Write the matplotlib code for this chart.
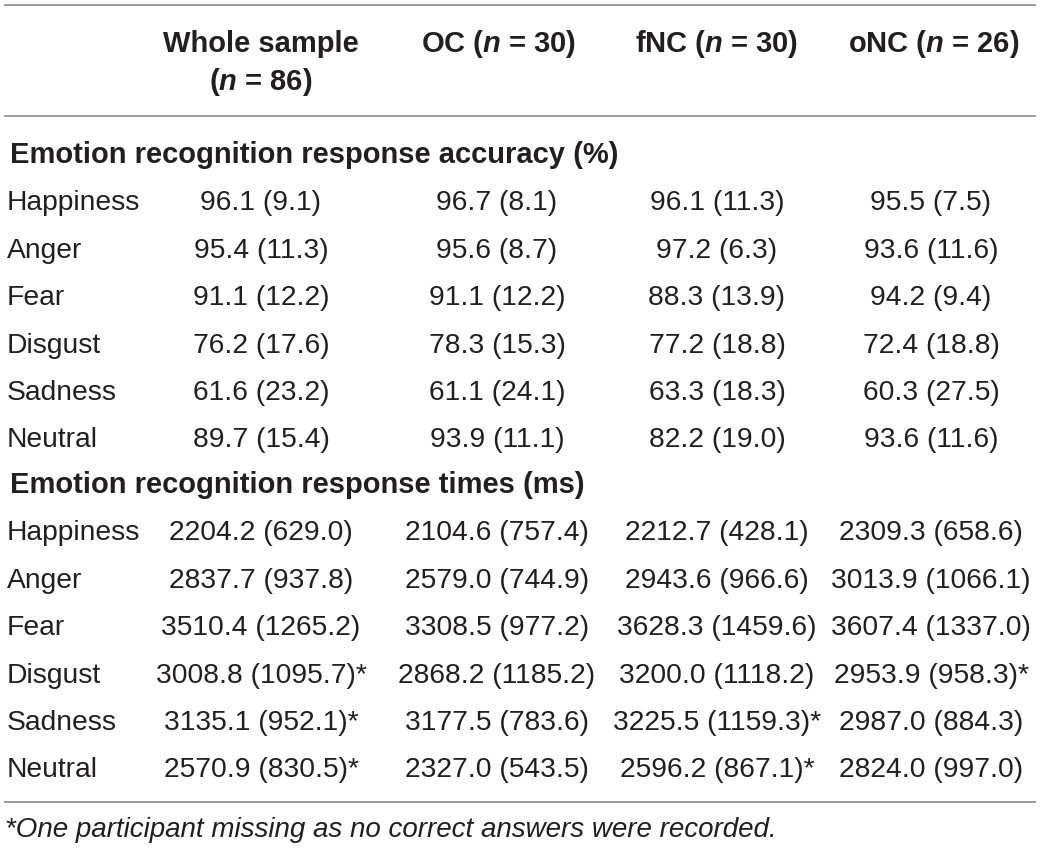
import numpy as np
import matplotlib
matplotlib.use('Agg')
import matplotlib.pyplot as plt

# table content
groups = ['Whole sample', 'OC', 'fNC', 'oNC']
group_n = [86, 30, 30, 26]
emotions = ['Happiness', 'Anger', 'Fear', 'Disgust', 'Sadness', 'Neutral']

acc_mean = [[96.1, 95.4, 91.1, 76.2, 61.6, 89.7],
            [96.7, 95.6, 91.1, 78.3, 61.1, 93.9],
            [96.1, 97.2, 88.3, 77.2, 63.3, 82.2],
            [95.5, 93.6, 94.2, 72.4, 60.3, 93.6]]
acc_sd = [[9.1, 11.3, 12.2, 17.6, 23.2, 15.4],
          [8.1, 8.7, 12.2, 15.3, 24.1, 11.1],
          [11.3, 6.3, 13.9, 18.8, 18.3, 19.0],
          [7.5, 11.6, 9.4, 18.8, 27.5, 11.6]]

rt_mean = [[2204.2, 2837.7, 3510.4, 3008.8, 3135.1, 2570.9],
           [2104.6, 2579.0, 3308.5, 2868.2, 3177.5, 2327.0],
           [2212.7, 2943.6, 3628.3, 3200.0, 3225.5, 2596.2],
           [2309.3, 3013.9, 3607.4, 2953.9, 2987.0, 2824.0]]
rt_sd = [[629.0, 937.8, 1265.2, 1095.7, 952.1, 830.5],
         [757.4, 744.9, 977.2, 1185.2, 783.6, 543.5],
         [428.1, 966.6, 1459.6, 1118.2, 1159.3, 867.1],
         [658.6, 1066.1, 1337.0, 958.3, 884.3, 997.0]]
rt_star = [[0, 0, 0, 1, 1, 1],
           [0, 0, 0, 0, 0, 0],
           [0, 0, 0, 0, 1, 1],
           [0, 0, 0, 1, 0, 0]]

section_titles = ['Emotion recognition response accuracy (%)',
                  'Emotion recognition response times (ms)']
footnote = '*One participant missing as no correct answers were recorded.'

plt.rcParams['font.family'] = ['Liberation Sans', 'DejaVu Sans']
plt.rcParams['mathtext.fontset'] = 'custom'
plt.rcParams['mathtext.it'] = 'Liberation Sans:italic:bold'
plt.rcParams['mathtext.rm'] = 'Liberation Sans:bold'

W, H = 1040, 851
fig = plt.figure(figsize=(W / 100, H / 100), dpi=100)
ax = fig.add_axes([0, 0, 1, 1])
ax.set_xlim(0, W)
ax.set_ylim(H, 0)
ax.axis('off')

txt = '#231f20'
fs = 20.3
fs_bold = 21
col_x = [261, 497, 717, 931]
head_x = [261, 499, 717, 934]

# rules
for y in [5, 116, 802]:
    ax.plot([5, 1035], [y, y], color='#9a9a9a', lw=1.4)

# header
for k, g in enumerate(groups):
    if k == 0:
        ax.text(head_x[k], 52, g, ha='center', va='baseline', fontsize=fs_bold, fontweight='bold', color=txt)
        ax.text(head_x[k], 90, r'($n$ = %d)' % group_n[k], ha='center', va='baseline',
                fontsize=fs_bold, fontweight='bold', color=txt)
    else:
        ax.text(head_x[k], 52, r'%s ($n$ = %d)' % (g, group_n[k]), ha='center', va='baseline',
                fontsize=fs_bold, fontweight='bold', color=txt)

def section(y0, title, means, sds, stars):
    ax.text(10, y0, title, ha='left', va='baseline', fontsize=fs_bold, fontweight='bold', color=txt)
    for i, emo in enumerate(emotions):
        y = y0 + 47.4 * (i + 1)
        ax.text(7, y, emo, ha='left', va='baseline', fontsize=fs, color=txt)
        for k in range(len(groups)):
            s = '%.1f (%.1f)' % (means[k][i], sds[k][i])
            if stars is not None and stars[k][i]:
                s += '*'
            ax.text(col_x[k], y, s, ha='center', va='baseline', fontsize=fs, color=txt)

section(163, section_titles[0], acc_mean, acc_sd, None)
section(493, section_titles[1], rt_mean, rt_sd, rt_star)

ax.text(5, 837, footnote, ha='left', va='baseline', fontsize=20, style='italic', color=txt)

fig.savefig('out.png', dpi=100, facecolor='white')
